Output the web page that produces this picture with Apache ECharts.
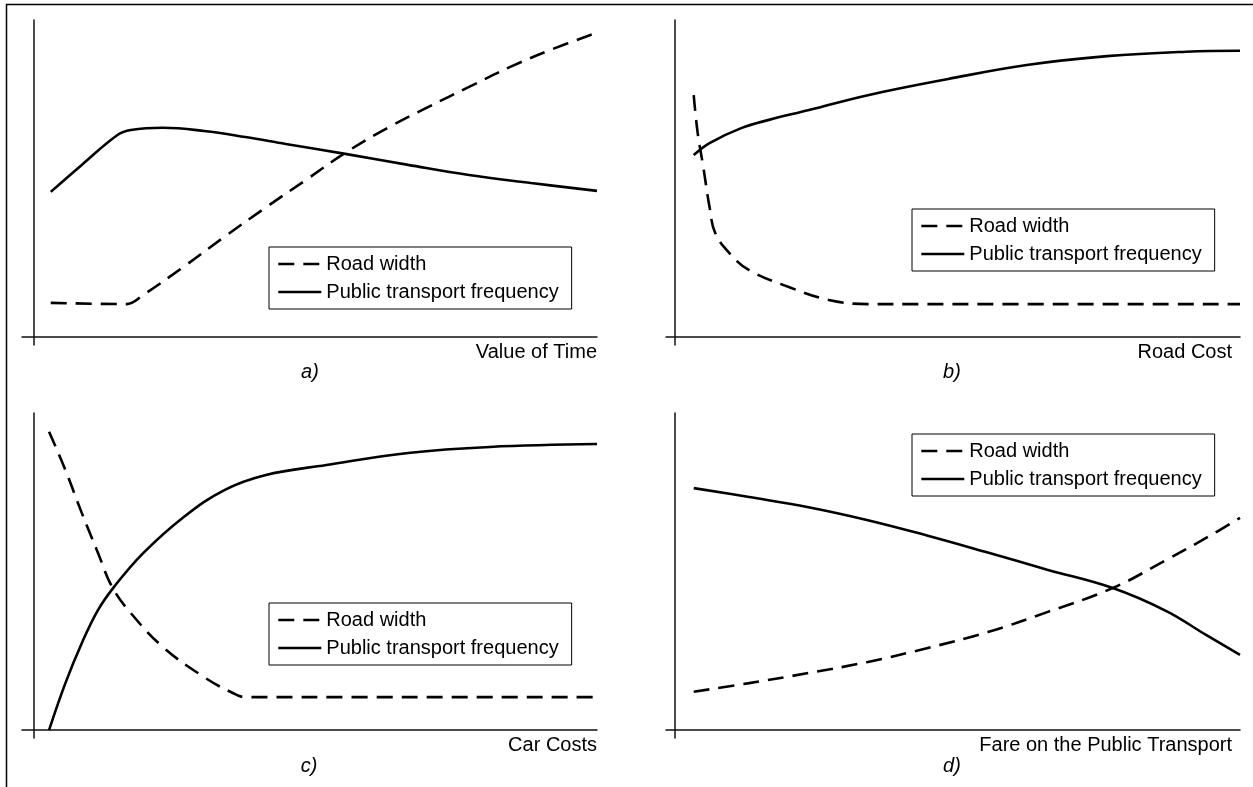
<!DOCTYPE html>
<html>
<head>
<meta charset="utf-8">
<script src="https://cdn.jsdelivr.net/npm/echarts@6/dist/echarts.min.js"></script>
<style>
html,body{margin:0;padding:0;background:#fff;}
#chart{width:1253px;height:787px;}
</style>
</head>
<body>
<div id="chart"></div>
<script>
// ---- Data (arbitrary units; x 0..100, y 0..100) ----
const seriesNames = ['Road width', 'Public transport frequency'];
const axisTitles = ['Value of Time', 'Road Cost', 'Car Costs', 'Fare on the Public Transport'];
const panelLabels = ['a)', 'b)', 'c)', 'd)'];

// Panel a
const roadA = [[3.1,10.8],[16.5,10.4],[19.5,13.3],[26.7,22.2],[33.9,31.6],[41.1,40.7],[48.4,49.6],[55.6,58.4],[62.9,66.0],[70.1,72.6],[77.3,78.9],[84.6,85.2],[91.8,90.6],[100,96.0]];
const ptA = [[3.1,45.8],[8.6,54.3],[15.0,63.8],[17.3,65.3],[23.0,66.0],[30.3,65.0],[37.6,63.1],[44.8,60.9],[55.6,57.7],[66.5,54.3],[77.3,51.1],[88.3,48.6],[100,46.1]];
// Panel b
const roadB = [[3.4,76.3],[4.1,64.4],[5.1,53.6],[6.2,41.0],[7.2,32.8],[9.7,26.5],[13.2,21.1],[20.2,15.8],[27.3,11.7],[34.2,10.4],[41.3,10.4],[100,10.4]];
const ptB = [[3.4,57.4],[6.2,61.2],[11.8,65.9],[16.7,68.5],[23.8,71.6],[34.2,76.3],[48.4,81.4],[62.3,85.8],[76.5,88.6],[90.5,90.0],[100,90.3]];
// Panel c
const roadC = [[2.8,94.1],[5.7,82.0],[8.6,68.5],[11.5,55.8],[14.0,45.1],[17.3,36.9],[23.0,26.2],[30.3,16.7],[35.4,11.7],[37.6,10.4],[100,10.4]];
const ptC = [[2.8,0],[5.7,14.8],[8.6,27.4],[11.5,37.9],[14.3,45.1],[19.5,55.8],[26.7,67.2],[33.9,75.7],[41.1,80.4],[52.0,83.6],[66.5,87.4],[81.0,89.3],[100,90.2]];
// Panel d
const roadD = [[3.4,12.1],[13.2,14.8],[23.7,18.0],[34.2,21.5],[44.8,25.9],[55.4,30.9],[65.9,37.2],[77.5,44.8],[86.9,53.6],[94.0,60.6],[100,66.9]];
const ptD = [[3.4,76.3],[13.2,73.5],[23.7,70.3],[34.2,66.2],[44.8,61.3],[55.4,56.0],[65.9,50.6],[77.5,44.8],[86.9,37.6],[94.0,30.0],[100,23.7]];

const roadData = [roadA, roadB, roadC, roadD];
const ptData = [ptA, ptB, ptC, ptD];

// ---- Layout ----
const FONT = '"Liberation Sans", Arial, sans-serif';
const grids = [
  {left: 22, top: 20, width: 575, height: 325},
  {left: 666, top: 20, width: 574, height: 325},
  {left: 22, top: 413, width: 575, height: 325},
  {left: 666, top: 413, width: 574, height: 325}
];
const xMins = [-2, -1.5, -2, -1.5];
const legendPos = [[269, 247], [912, 209], [269, 603], [912, 434]];
const titlePos = [[597, 352], [1232, 352], [597, 745], [1232, 745]];
const captionPos = [[310, 372], [952, 372], [309, 766], [952, 766]];

const chart = echarts.init(document.getElementById('chart'), null, {renderer: 'canvas'});

const axisLine = {show: true, onZero: true, lineStyle: {color: '#111', width: 1.5}};
const xAxes = grids.map((g, i) => ({
  type: 'value', gridIndex: i, min: xMins[i], max: 100,
  axisLine: axisLine, axisTick: {show: false}, axisLabel: {show: false}, splitLine: {show: false}
}));
const yAxes = grids.map((g, i) => ({
  type: 'value', gridIndex: i, min: -2.5, max: 100,
  axisLine: axisLine, axisTick: {show: false}, axisLabel: {show: false}, splitLine: {show: false}
}));

const series = [];
for (let i = 0; i < 4; i++) {
  series.push({
    name: seriesNames[0], type: 'line', xAxisIndex: i, yAxisIndex: i,
    data: roadData[i], smooth: 0.4, symbol: 'none', silent: true,
    lineStyle: {color: '#000', width: 2.6, type: [16, 9]}, itemStyle: {color: 'rgba(0,0,0,0)'}
  });
  series.push({
    name: seriesNames[1], type: 'line', xAxisIndex: i, yAxisIndex: i,
    data: ptData[i], smooth: 0.4, symbol: 'none', silent: true,
    lineStyle: {color: '#000', width: 2.6, type: 'solid'}, itemStyle: {color: 'rgba(0,0,0,0)'}
  });
}

const legends = legendPos.map(p => ({
  left: p[0], top: p[1], orient: 'vertical', selectedMode: false,
  data: seriesNames, itemWidth: 43, itemHeight: 14, itemGap: 8,
  padding: [7, 13, 7, 8], borderColor: '#000', borderWidth: 1, backgroundColor: '#fff',
  itemStyle: {color: 'rgba(0,0,0,0)', borderWidth: 0, opacity: 0},
  lineStyle: {color: '#000', width: 2.6},
  textStyle: {fontSize: 20, color: '#000', fontFamily: FONT}
}));

const graphics = [
  {type: 'rect', shape: {x: 6.5, y: 4.5, width: 1400, height: 900}, style: {fill: 'none', stroke: '#000', lineWidth: 1.5}, silent: true}
];
axisTitles.forEach((t, i) => {
  graphics.push({type: 'text', x: titlePos[i][0], y: titlePos[i][1], silent: true,
    style: {text: t, textAlign: 'right', textVerticalAlign: 'middle', font: '20px ' + FONT, fill: '#000'}});
});
panelLabels.forEach((t, i) => {
  graphics.push({type: 'text', x: captionPos[i][0], y: captionPos[i][1], silent: true,
    style: {text: t, textAlign: 'center', textVerticalAlign: 'middle', font: 'italic 20px ' + FONT, fill: '#000'}});
});

chart.setOption({
  animation: false,
  backgroundColor: '#fff',
  grid: grids,
  xAxis: xAxes,
  yAxis: yAxes,
  legend: legends,
  series: series,
  graphic: graphics
});
</script>
</body>
</html>
